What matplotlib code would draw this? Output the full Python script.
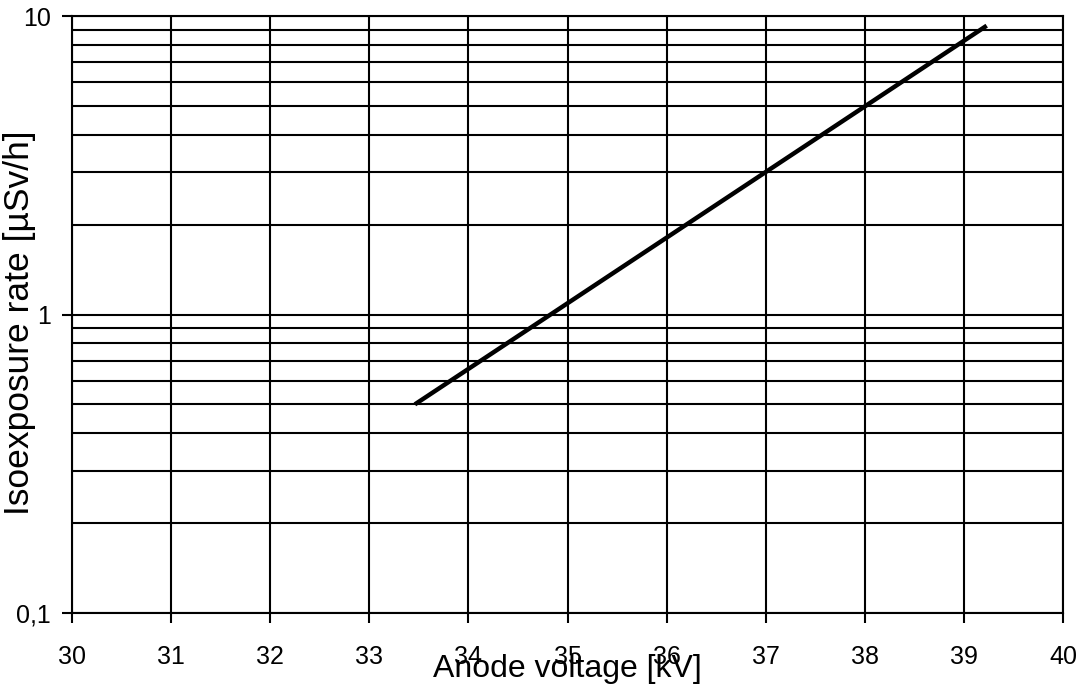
import matplotlib
matplotlib.use("Agg")
import matplotlib.pyplot as plt
from matplotlib.ticker import FixedLocator, NullFormatter

plt.rcParams['font.family'] = ['Liberation Sans', 'DejaVu Sans']

# Data
voltage_kv = [33.46, 39.23]
rate_usvh = [0.50, 9.28]

x_ticks = [30, 31, 32, 33, 34, 35, 36, 37, 38, 39, 40]
x_tick_labels = ['30', '31', '32', '33', '34', '35', '36', '37', '38', '39', '40']
y_major = [0.1, 1, 10]
y_major_labels = ['0,1', '1', '10']
y_minor = [0.2, 0.3, 0.4, 0.5, 0.6, 0.7, 0.8, 0.9,
           2, 3, 4, 5, 6, 7, 8, 9]

fig = plt.figure(figsize=(10.85, 6.86), dpi=100)
ax = fig.add_axes([72/1085, 73/686, 991/1085, 597/686])

ax.set_yscale('log')
ax.set_xlim(30, 40)
ax.set_ylim(0.1, 10)

ax.plot(voltage_kv, rate_usvh, color='black', linewidth=3.2, solid_capstyle='butt')

ax.set_xticks(x_ticks)
ax.set_xticklabels(x_tick_labels)
ax.yaxis.set_major_locator(FixedLocator(y_major))
ax.set_yticklabels(y_major_labels)
ax.yaxis.set_minor_locator(FixedLocator(y_minor))
ax.yaxis.set_minor_formatter(NullFormatter())

ax.grid(True, which='major', axis='both', color='black', linewidth=1.5)
ax.grid(True, which='minor', axis='y', color='black', linewidth=1.5)
ax.set_axisbelow(True)

ax.tick_params(axis='both', which='major', direction='out', length=7, width=1.5,
               labelsize=18, colors='black')
ax.tick_params(axis='x', which='major', pad=16)
ax.tick_params(axis='y', which='major', pad=8)
ax.tick_params(axis='y', which='minor', length=0)

for s in ax.spines.values():
    s.set_linewidth(1.5)
    s.set_color('black')

ax.set_xlabel('Anode voltage [kV]', fontsize=23)
ax.xaxis.set_label_coords(0.5, -0.068)
ax.set_ylabel('Isoexposure rate [µSv/h]', fontsize=25.5)
ax.yaxis.set_label_coords(-0.036, 0.486)

fig.savefig('out.png', dpi=100)
